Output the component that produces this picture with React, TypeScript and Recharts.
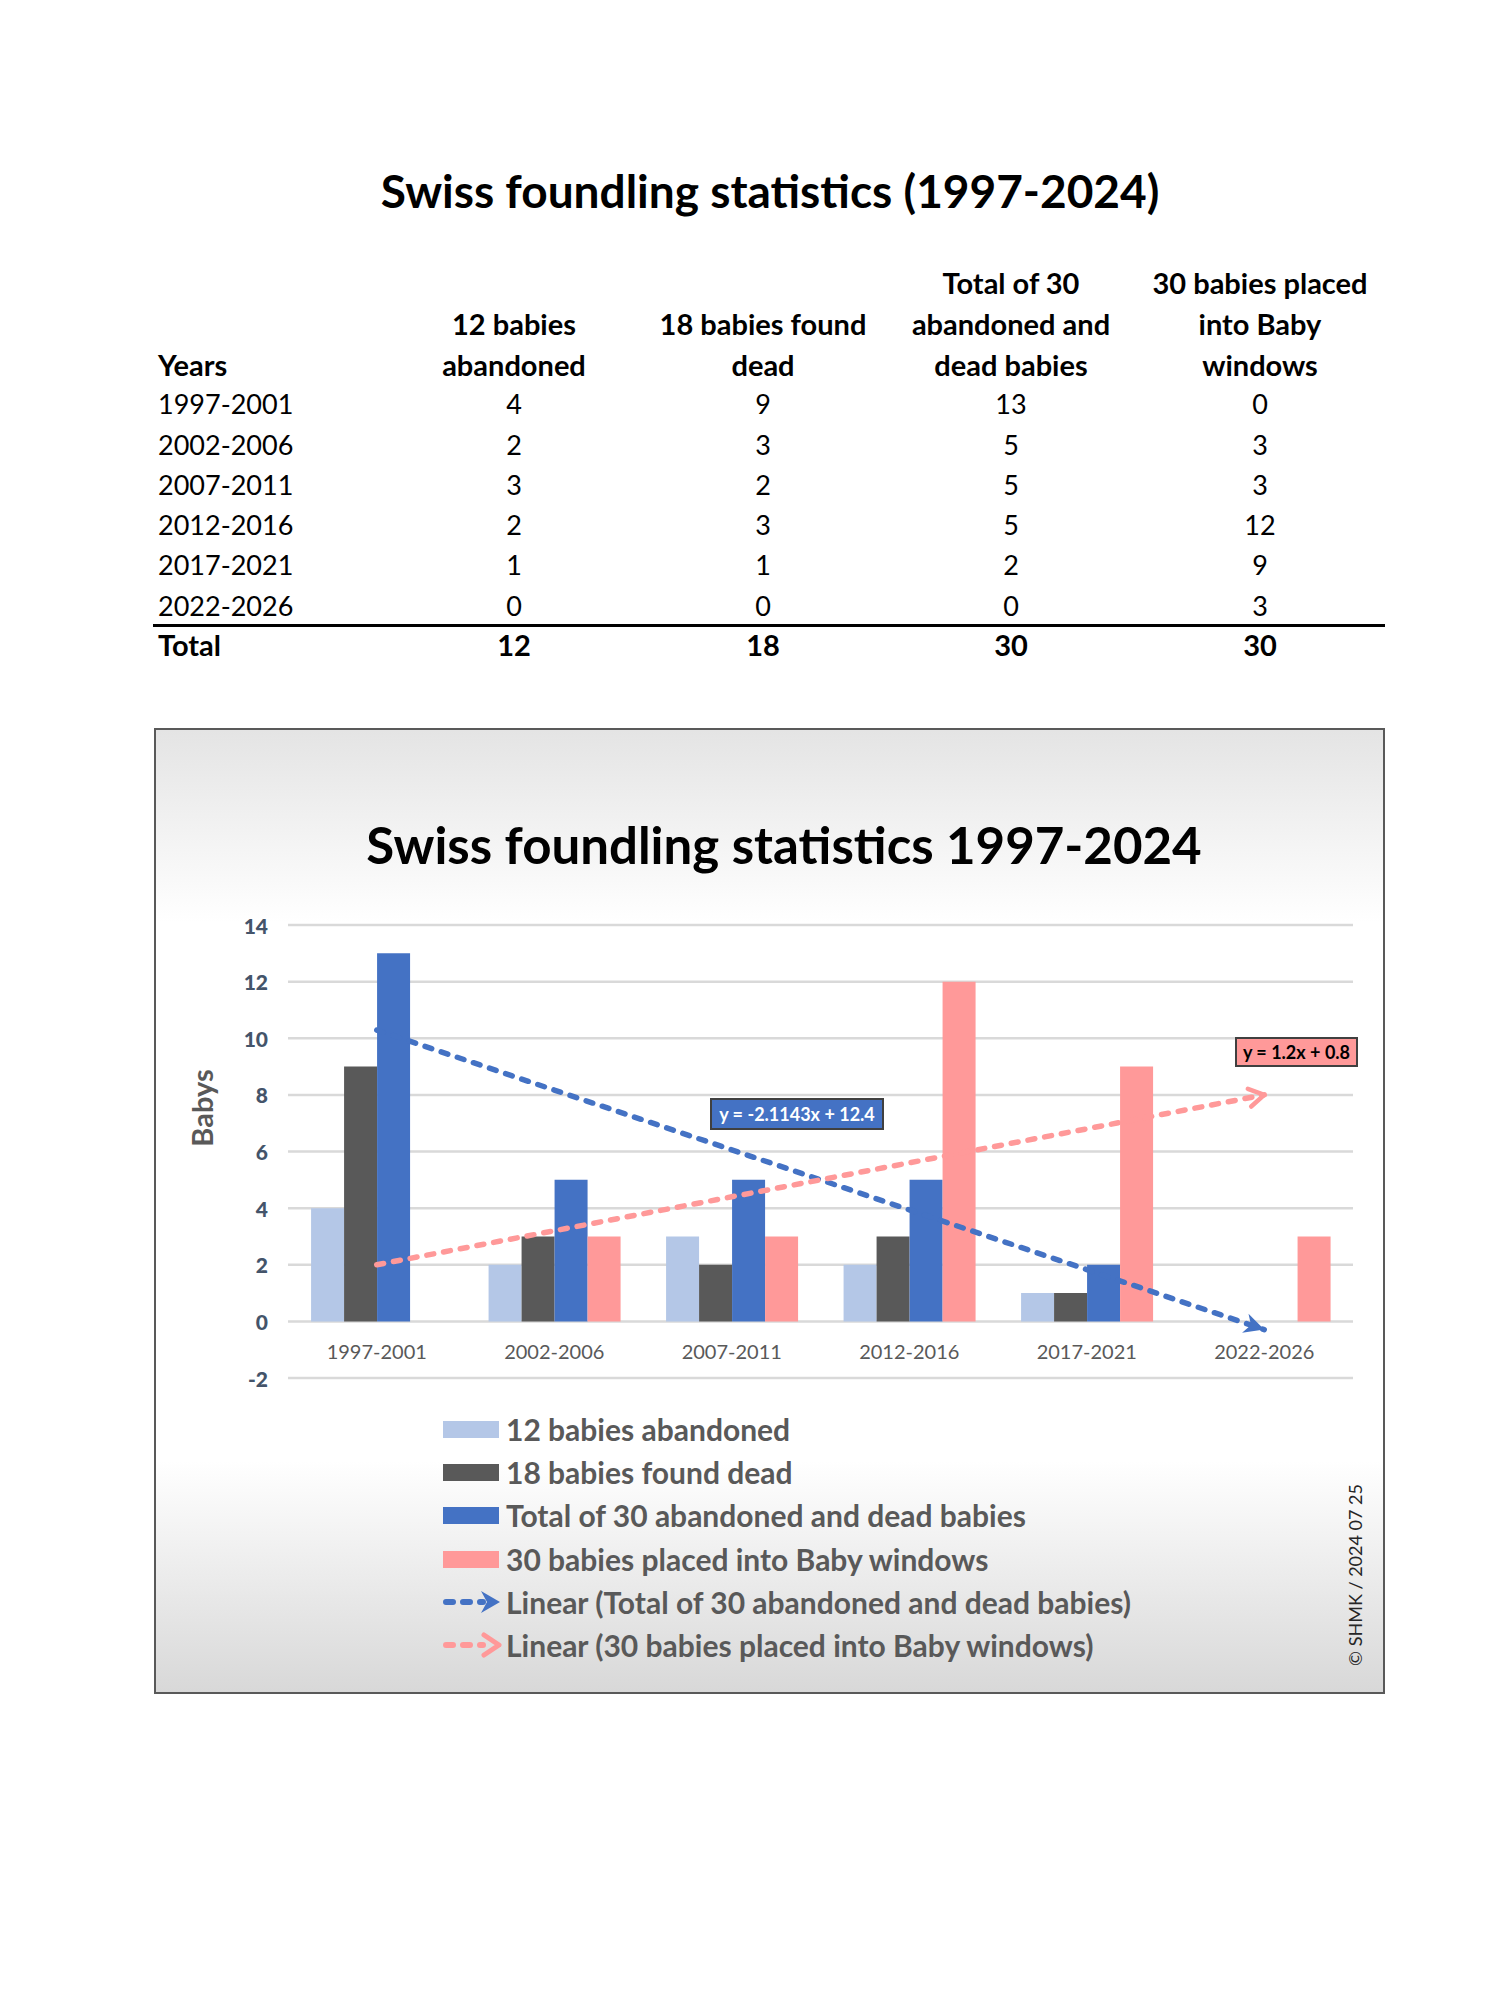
import React from 'react';
import { ComposedChart, Bar, Line, XAxis, YAxis, CartesianGrid } from 'recharts';

const years = ['1997-2001', '2002-2006', '2007-2011', '2012-2016', '2017-2021', '2022-2026'];
const abandoned = [4, 2, 3, 2, 1, 0];
const foundDead = [9, 3, 2, 3, 1, 0];
const totalAbandonedDead = [13, 5, 5, 5, 2, 0];
const babyWindows = [0, 3, 3, 12, 9, 3];
// linear trend values (y = -2.1143x + 12.4 and y = 1.2x + 0.8)
const trendTotal = [10.29, 8.17, 6.06, 3.94, 1.83, -0.29];
const trendWindows = [2.0, 3.2, 4.4, 5.6, 6.8, 8.0];
const yTicks = [-2, 0, 2, 4, 6, 8, 10, 12, 14];

const seriesNames = [
  '12 babies abandoned',
  '18 babies found dead',
  'Total of 30 abandoned and dead babies',
  '30 babies placed into Baby windows',
];
const headerLines = [
  ['12 babies', 'abandoned'],
  ['18 babies found', 'dead'],
  ['Total of 30', 'abandoned and', 'dead babies'],
  ['30 babies placed', 'into Baby', 'windows'],
];
const colors = ['#b4c7e7', '#595959', '#4472c4', '#ff9999'];

const FONT = 'Lato, "Open Sans", sans-serif';

const data = years.map((y, i) => ({
  year: y,
  abandoned: abandoned[i],
  foundDead: foundDead[i],
  total: totalAbandonedDead[i],
  windows: babyWindows[i],
  trendTotal: trendTotal[i],
  trendWindows: trendWindows[i],
}));

const columns = [abandoned, foundDead, totalAbandonedDead, babyWindows];
const sum = (arr: number[]) => arr.reduce((a, b) => a + b, 0);

const colCenters = [514, 763, 1011, 1260];
const headerRowY = [283, 324, 365];
const dataRowY = [404, 445, 485, 525, 565, 606];

function Txt({ x, y, text, align = 'center', bold = false, size }: any) {
  const w = 320;
  const left = align === 'center' ? x - w / 2 : x;
  return (
    <div
      style={{
        position: 'absolute',
        left,
        top: y - 20,
        width: w,
        height: 40,
        lineHeight: '40px',
        textAlign: align,
        fontWeight: bold ? 700 : 400,
        fontSize: size ?? (bold ? 29 : 27),
        fontFamily: FONT,
        color: '#000',
        whiteSpace: 'nowrap',
      }}
    >
      {text}
    </div>
  );
}

const CategoryTick = (props: any) => {
  const { x, y, payload } = props;
  return (
    <text
      x={x}
      y={y - 27}
      textAnchor="middle"
      dominantBaseline="central"
      fill="#595959"
      fontSize={20}
      fontFamily={FONT}
    >
      {payload.value}
    </text>
  );
};

const ValueTick = (props: any) => {
  const { x, y, payload } = props;
  return (
    <text
      x={x}
      y={y}
      textAnchor="end"
      dominantBaseline="central"
      fill="#44546a"
      fontSize={21}
      fontWeight={900}
      fontFamily={FONT}
    >
      {payload.value}
    </text>
  );
};

function LegendIcon({ index }: { index: number }) {
  if (index < 4) {
    return <div style={{ width: 56, height: 17, background: colors[index] }} />;
  }
  const c = index === 4 ? '#4472c4' : '#ff9999';
  return (
    <svg width={60} height={28}>
      <line x1={3} y1={14} x2={40} y2={14} stroke={c} strokeWidth={6} strokeDasharray="7 10" strokeLinecap="round" />
      {index === 4 ? (
        <path d="M38,3 L57,14 L38,25 L44,14 Z" fill={c} />
      ) : (
        <path d="M41,4 L56,14 L41,24" fill="none" stroke={c} strokeWidth={5} strokeLinecap="round" strokeLinejoin="round" />
      )}
    </svg>
  );
}

export default function App() {
  const legendItems = [
    ...seriesNames,
    'Linear (Total of 30 abandoned and dead babies)',
    'Linear (30 babies placed into Baby windows)',
  ];
  const legendY = [699, 742, 785, 829, 872, 915];

  return (
    <div style={{ position: 'absolute', left: 0, top: 0, width: 1500, height: 2000, background: '#fff' }}>
      {/* table title */}
      <div
        style={{
          position: 'absolute',
          left: 0,
          width: 1540,
          top: 164,
          textAlign: 'center',
          fontFamily: FONT,
          fontWeight: 700,
          fontSize: 46,
          lineHeight: '54px',
          color: '#000',
        }}
      >
        Swiss foundling statistics (1997-2024)
      </div>

      {/* table */}
      <Txt x={158} y={365} text="Years" align="left" bold />
      {headerLines.map((lines, c) =>
        lines.map((ln, k) => (
          <Txt key={`h${c}${k}`} x={colCenters[c]} y={headerRowY[3 - lines.length + k]} text={ln} bold />
        ))
      )}
      {years.map((y, r) => (
        <React.Fragment key={y}>
          <Txt x={158} y={dataRowY[r]} text={y} align="left" />
          {columns.map((col, c) => (
            <Txt key={c} x={colCenters[c]} y={dataRowY[r]} text={String(col[r])} />
          ))}
        </React.Fragment>
      ))}
      <div style={{ position: 'absolute', left: 153, top: 624, width: 1232, height: 3, background: '#000' }} />
      <Txt x={158} y={645} text="Total" align="left" bold />
      {columns.map((col, c) => (
        <Txt key={`t${c}`} x={colCenters[c]} y={645} text={String(sum(col))} bold />
      ))}

      {/* chart box */}
      <div
        style={{
          position: 'absolute',
          left: 154,
          top: 728,
          width: 1231,
          height: 966,
          boxSizing: 'border-box',
          border: '2px solid #595959',
          background: 'linear-gradient(to bottom, #e4e4e4 0%, #ffffff 20%, #ffffff 76%, #d8d8d8 100%)',
        }}
      >
        <div
          style={{
            position: 'absolute',
            left: 0,
            width: 1256,
            top: 84,
            textAlign: 'center',
            fontFamily: FONT,
            fontWeight: 700,
            fontSize: 51,
            lineHeight: '62px',
            color: '#000',
          }}
        >
          Swiss foundling statistics 1997-2024
        </div>

        <ComposedChart
          width={1227}
          height={962}
          data={data}
          margin={{ top: 195, right: 30, left: 72, bottom: 284 }}
          barCategoryGap="13%"
          barGap={0}
        >
          <defs>
            <marker
              id="arrowBlue"
              viewBox="0 0 24 24"
              refX={22}
              refY={12}
              markerWidth={24}
              markerHeight={24}
              markerUnits="userSpaceOnUse"
              orient="auto"
            >
              <path d="M2,2 L22,12 L2,22 L8,12 Z" fill="#4472c4" />
            </marker>
            <marker
              id="arrowPink"
              viewBox="0 0 24 24"
              refX={20}
              refY={12}
              markerWidth={24}
              markerHeight={24}
              markerUnits="userSpaceOnUse"
              orient="auto"
            >
              <path
                d="M5,3 L20,12 L5,21"
                fill="none"
                stroke="#ff9999"
                strokeWidth={4.5}
                strokeLinecap="round"
                strokeLinejoin="round"
              />
            </marker>
          </defs>
          <CartesianGrid vertical={false} stroke="#d9d9d9" strokeWidth={2.5} />
          <XAxis
            dataKey="year"
            height={30}
            axisLine={false}
            tickLine={false}
            tickSize={0}
            tickMargin={0}
            tick={<CategoryTick />}
            interval={0}
          />
          <YAxis
            width={60}
            domain={[-2, 14]}
            ticks={yTicks}
            axisLine={false}
            tickLine={false}
            tickSize={0}
            tickMargin={20}
            tick={<ValueTick />}
          />
          <Bar dataKey="abandoned" fill={colors[0]} isAnimationActive={false} />
          <Bar dataKey="foundDead" fill={colors[1]} isAnimationActive={false} />
          <Bar dataKey="total" fill={colors[2]} isAnimationActive={false} />
          <Bar dataKey="windows" fill={colors[3]} isAnimationActive={false} />
          <Line
            dataKey="trendTotal"
            type="linear"
            stroke="#4472c4"
            strokeWidth={5.5}
            strokeDasharray="7 10"
            strokeLinecap="round"
            dot={false}
            activeDot={false}
            markerEnd="url(#arrowBlue)"
            isAnimationActive={false}
          />
          <Line
            dataKey="trendWindows"
            type="linear"
            stroke="#ff9999"
            strokeWidth={5.5}
            strokeDasharray="7 10"
            strokeLinecap="round"
            dot={false}
            activeDot={false}
            markerEnd="url(#arrowPink)"
            isAnimationActive={false}
          />
        </ComposedChart>

        {/* y axis title */}
        <div
          style={{
            position: 'absolute',
            left: 46 - 60,
            top: 378 - 18,
            width: 120,
            height: 36,
            lineHeight: '36px',
            textAlign: 'center',
            transform: 'rotate(-90deg)',
            fontFamily: FONT,
            fontWeight: 700,
            fontSize: 29,
            color: '#595959',
          }}
        >
          Babys
        </div>

        {/* trendline equations */}
        <div
          style={{
            position: 'absolute',
            left: 554,
            top: 368,
            width: 174,
            height: 32,
            boxSizing: 'border-box',
            border: '2px solid #404040',
            background: '#4472c4',
            color: '#fff',
            fontFamily: FONT,
            fontWeight: 700,
            fontSize: 18,
            lineHeight: '28px',
            textAlign: 'center',
            whiteSpace: 'nowrap',
          }}
        >
          y = -2.1143x + 12.4
        </div>
        <div
          style={{
            position: 'absolute',
            left: 1079,
            top: 307,
            width: 123,
            height: 30,
            boxSizing: 'border-box',
            border: '2px solid #404040',
            background: '#ff9999',
            color: '#000',
            fontFamily: FONT,
            fontWeight: 700,
            fontSize: 18,
            lineHeight: '26px',
            textAlign: 'center',
            whiteSpace: 'nowrap',
          }}
        >
          y = 1.2x + 0.8
        </div>

        {/* legend */}
        {legendItems.map((name, i) => (
          <div
            key={name}
            style={{
              position: 'absolute',
              left: 284,
              top: legendY[i] - 20,
              height: 40,
              display: 'flex',
              alignItems: 'center',
              whiteSpace: 'nowrap',
            }}
          >
            <div style={{ width: 63, display: 'flex', alignItems: 'center', justifyContent: 'flex-start', paddingLeft: 3 }}>
              <LegendIcon index={i} />
            </div>
            <span style={{ fontFamily: FONT, fontWeight: 700, fontSize: 30, color: '#595959' }}>{name}</span>
          </div>
        ))}

        {/* copyright */}
        <div
          style={{
            position: 'absolute',
            left: 1199 - 120,
            top: 845 - 13,
            width: 240,
            height: 26,
            lineHeight: '26px',
            textAlign: 'center',
            transform: 'rotate(-90deg)',
            fontFamily: FONT,
            fontSize: 18,
            color: '#262626',
            whiteSpace: 'nowrap',
          }}
        >
          © SHMK / 2024 07 25
        </div>
      </div>
    </div>
  );
}
